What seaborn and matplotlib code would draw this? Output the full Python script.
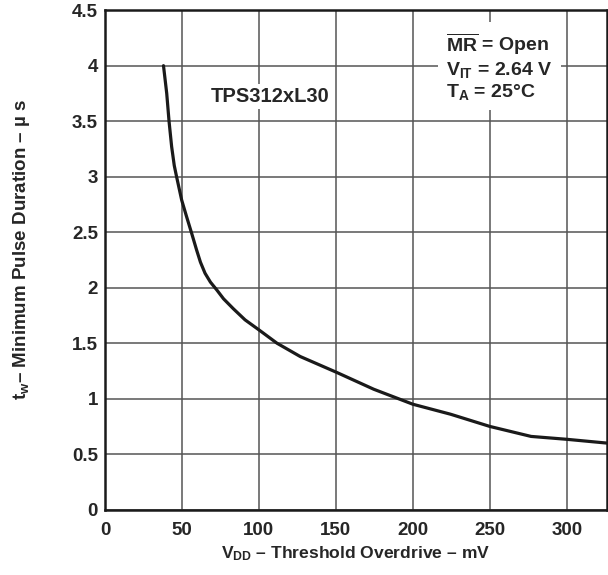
import matplotlib
matplotlib.use("Agg")
import matplotlib.pyplot as plt
import seaborn as sns
import pandas as pd
from matplotlib.ticker import FuncFormatter

# curve
overdrive_mv = [38, 40.1, 41.6, 43.3, 45, 46.5, 49.8, 53, 56.3, 59.5, 62, 65,
                68.5, 72.6, 77, 83.4, 91, 100, 111.7, 126.8, 150, 174.6, 200,
                224.5, 250, 276.8, 300, 326]
pulse_us = [4.0, 3.75, 3.5, 3.27, 3.1, 3.0, 2.79, 2.64, 2.49, 2.34, 2.23, 2.13,
            2.05, 1.98, 1.9, 1.81, 1.71, 1.62, 1.5, 1.38, 1.24, 1.085, 0.95,
            0.86, 0.75, 0.66, 0.634, 0.60]
x_ticks = [0, 50, 100, 150, 200, 250, 300]
y_ticks = [0, 0.5, 1, 1.5, 2, 2.5, 3, 3.5, 4, 4.5]

sns.set_style("white")
plt.rcParams['font.family'] = ['Liberation Sans', 'DejaVu Sans']
plt.rcParams['font.weight'] = 'bold'
plt.rcParams['mathtext.fontset'] = 'custom'
plt.rcParams['mathtext.rm'] = 'Liberation Sans:bold'
plt.rcParams['mathtext.it'] = 'Liberation Sans:bold'
plt.rcParams['mathtext.bf'] = 'Liberation Sans:bold'

df = pd.DataFrame({"x": overdrive_mv, "y": pulse_us})

fig = plt.figure(figsize=(6.08, 5.75), dpi=100)
ax = fig.add_axes([0.1727, 0.1136, 0.8253, 0.8687])

sns.lineplot(data=df, x="x", y="y", ax=ax, color="#1a1a1a", linewidth=2.3)

ax.set_xlim(0, 326)
ax.set_ylim(0, 4.5)
ax.set_xticks(x_ticks)
ax.set_yticks(y_ticks)
ax.yaxis.set_major_formatter(FuncFormatter(lambda v, p: f"{v:g}"))
ax.tick_params(length=0, labelsize=13.5)
ax.tick_params(axis='x', pad=9)
ax.tick_params(axis='y', pad=5)
for lab in ax.get_xticklabels() + ax.get_yticklabels():
    lab.set_fontweight('bold')

ax.grid(True, color="#555555", linewidth=1.1)
for s in ax.spines.values():
    s.set_color("#1a1a1a")
    s.set_linewidth(1.8)

ax.set_xlabel(r"V$_{\mathrm{DD}}$ – Threshold Overdrive – mV", fontsize=12.6,
              fontweight='bold')
ax.set_ylabel(r"t$_{\mathrm{w}}$– Minimum Pulse Duration – µ s", fontsize=13.5,
              fontweight='bold')
ax.xaxis.set_label_coords(0.5, -0.07)
ax.yaxis.set_label_coords(-0.145, 0.52)

box = dict(facecolor='white', edgecolor='none', pad=2)
ax.text(68.4, 3.72, "TPS312xL30", fontsize=14.5, fontweight='bold',
        va='center', ha='left', bbox=box)
ax.text(221.5, 3.99,
        r"$\overline{\mathrm{MR}}$ = Open" + "\n" +
        r"V$_{\mathrm{IT}}$ = 2.64 V" + "\n" +
        r"T$_{\mathrm{A}}$ = 25°C",
        fontsize=14, fontweight='bold', va='center', ha='left',
        linespacing=1.15, bbox=dict(facecolor='white', edgecolor='none', pad=6))

fig.savefig("out.png", dpi=100)
